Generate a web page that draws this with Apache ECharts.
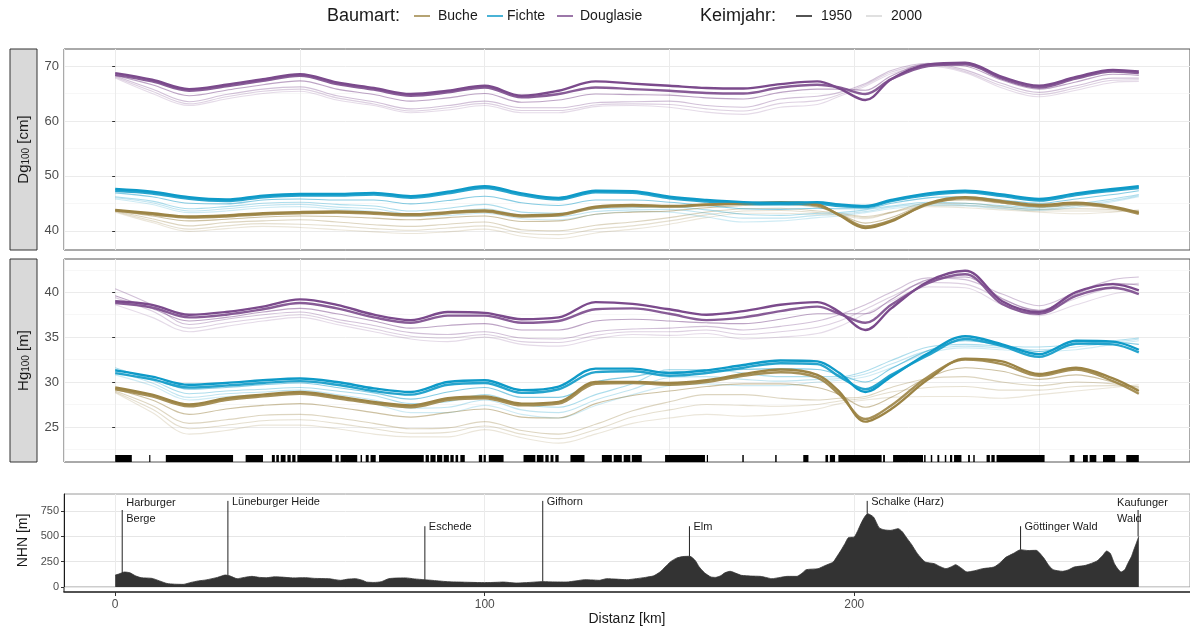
<!DOCTYPE html>
<html lang="de">
<head>
<meta charset="utf-8">
<title>Dg100 / Hg100 entlang der Distanz</title>
<script src="https://cdn.jsdelivr.net/npm/echarts@6/dist/echarts.min.js"></script>
<style>
  html, body { margin: 0; padding: 0; background: #fff; }
  #chart { width: 1190px; height: 630px; }
</style>
</head>
<body>
<div id="chart"></div>
<script>
// Distanz [km] der Stuetzstellen
var km = [0,10,20,30,40,50,60,70,80,90,100,110,120,130,140,150,160,170,180,190,196,203,210,220,230,240,250,260,270,277];

// Dg100 [cm]
var dgBuche1950 = [43.8,43.2,42.6,42.8,43.2,43.4,43.5,43.3,43.0,43.4, 43.7,42.8,43.0,44.4,44.7,44.5,44.8,45.0,45.2,44.8, 42.8,40.5,41.7,45.0,46.1,45.4,44.7,45.1,44.4,43.3];
var dgBuche1960 = [43.7,43.0,42.4,42.6,43.0,43.2,43.3,43.1,42.8,43.2, 43.5,42.6,42.8,44.2,44.5,44.4,44.7,44.9,45.0,44.6, 42.9,40.8,41.9,44.8,45.9,45.2,44.5,44.9,44.2,43.1];
var dgBuche1970 = [43.7,42.7,41.8,42.1,42.5,42.7,42.6,42.3,42.0,42.4, 42.7,41.7,41.8,43.0,43.4,43.6,44.2,44.6,44.8,44.3, 43.0,41.4,42.4,45.0,45.6,45.0,44.3,44.6,44.1,43.4];
var dgBuche1980 = [43.6,42.2,40.9,41.5,41.8,42.0,41.6,41.1,40.8,41.2, 41.6,40.2,40.0,41.0,41.6,42.4,43.4,44.0,44.1,43.6, 43.2,42.6,43.4,45.0,45.0,44.4,43.9,44.0,43.9,43.6];
var dgBuche1990 = [43.5,41.8,40.3,40.9,41.3,41.2,40.9,40.4,40.1,40.5, 40.9,39.6,39.3,40.3,40.9,41.8,42.9,43.6,43.7,43.3, 43.0,42.4,43.3,44.7,44.6,44.1,43.6,43.6,43.6,43.7];
var dgBuche2000 = [43.4,41.5,39.9,40.4,40.8,40.6,40.2,39.8,39.5,39.8, 40.3,39.0,38.6,39.6,40.3,41.2,42.4,43.2,43.2,43.0, 42.8,42.2,43.3,44.4,44.2,43.8,43.4,43.1,43.4,43.8];
var dgFichte1950 = [47.6,47.1,46.1,45.7,46.4,46.7,46.7,46.9,46.3,47.1, 48.1,46.8,46.0,47.3,47.2,46.2,45.6,45.2,45.1,45.2, 44.8,44.5,45.6,46.8,47.3,46.6,45.8,46.8,47.6,48.1];
var dgFichte1960 = [47.3,46.8,45.8,45.4,46.1,46.4,46.4,46.6,46.0,46.8, 47.8,46.5,45.7,47.0,46.9,45.9,45.3,44.9,44.8,44.9, 44.5,44.3,45.4,46.5,47.0,46.3,45.5,46.5,47.3,47.8];
var dgFichte1970 = [46.9,46.2,45.0,44.9,45.6,45.8,45.6,45.6,44.9,45.5, 46.3,45.1,44.6,45.6,45.6,45.2,44.6,44.0,43.9,44.1, 44.0,44.0,45.0,46.0,46.2,45.6,45.0,45.8,46.6,47.3];
var dgFichte1980 = [46.2,45.4,44.0,44.4,45.0,45.2,44.8,44.5,43.6,44.1, 44.8,43.4,43.2,44.0,44.2,44.4,43.8,43.0,42.8,43.2, 43.3,43.8,44.5,45.2,45.0,44.6,44.2,44.9,45.8,46.6];
var dgFichte1990 = [46.0,45.1,43.6,44.0,44.6,44.8,44.3,44.0,43.1,43.4, 44.0,42.8,42.6,43.5,43.8,43.9,43.2,42.3,42.3,42.8, 43.0,43.5,44.3,44.9,44.7,44.3,43.9,44.6,45.5,46.4];
var dgFichte2000 = [45.8,44.8,43.3,43.6,44.2,44.4,43.9,43.5,42.6,42.8, 43.2,42.2,42.0,43.0,43.5,43.4,42.5,41.6,41.8,42.4, 42.7,43.3,44.0,44.6,44.5,44.0,43.7,44.3,45.3,46.2];
var dgDouglasie1950 = [68.7,67.5,65.8,66.6,67.6,68.5,67.0,66.0,64.9,65.5, 66.4,64.6,65.5,67.2,66.8,66.4,66.0,65.9,66.7,67.2, 65.9,63.8,67.6,70.3,70.6,68.0,66.4,68.0,69.3,69.0];
var dgDouglasie1960 = [68.4,67.2,65.5,66.3,67.3,68.2,66.7,65.7,64.6,65.2, 66.1,64.3,64.9,66.1,65.8,65.5,65.1,65.0,66.1,66.6, 66.1,64.9,67.6,70.0,70.3,67.7,66.1,67.7,69.0,68.7];
var dgDouglasie1970 = [68.3,66.6,64.6,65.6,66.6,67.3,65.8,64.8,63.6,64.2, 65.0,63.4,63.8,64.9,64.8,64.7,64.2,64.0,65.2,65.8, 65.8,65.6,68.2,70.4,70.0,67.4,65.8,67.1,68.5,68.3];
var dgDouglasie1980 = [68.2,65.8,63.5,64.8,65.8,66.2,64.6,63.5,62.2,62.8, 63.6,62.4,62.4,63.3,63.5,63.6,62.8,62.5,64.0,64.5, 65.2,66.8,69.2,70.5,69.3,66.8,65.2,66.4,67.8,67.8];
var dgDouglasie1990 = [68.0,65.4,63.1,64.4,65.4,65.8,64.2,63.1,61.8,62.4, 63.2,61.9,61.9,62.9,63.1,63.0,62.2,61.8,63.2,63.7, 64.8,66.6,68.9,70.3,69.0,66.4,64.8,66.0,67.4,67.5];
var dgDouglasie2000 = [67.8,65.0,62.8,64.0,65.0,65.4,63.8,62.8,61.5,62.0, 62.8,61.5,61.5,62.6,62.8,62.5,61.6,61.2,62.5,63.0, 64.5,66.3,68.6,70.0,68.8,66.0,64.4,65.6,67.0,67.2];

// Hg100 [m]
var hgBuche1950 = [29.4,28.6,27.5,28.2,28.6,28.9,28.4,27.8,27.4,28.2, 28.4,27.6,27.8,30.0,30.0,29.9,30.2,30.9,31.4,30.8, 28.9,25.6,27.0,30.3,32.6,32.3,30.9,31.6,30.4,29.0];
var hgBuche1960 = [29.2,28.4,27.3,28.0,28.4,28.7,28.2,27.6,27.2,28.0, 28.2,27.4,27.6,29.8,29.9,29.7,30.0,30.7,31.1,30.5, 28.6,25.9,27.4,30.6,32.5,32.0,30.7,31.4,30.1,28.7];
var hgBuche1970 = [29.2,28.0,26.4,27.0,27.4,27.6,27.2,26.6,26.1,26.6, 27.0,26.1,26.0,27.6,28.5,29.0,29.5,29.8,29.8,29.4, 28.6,27.2,28.3,30.5,31.6,31.2,30.3,30.8,30.0,29.2];
var hgBuche1980 = [29.0,27.4,25.4,25.8,26.3,26.4,26.0,25.4,24.8,24.9, 25.6,24.6,24.2,25.3,26.8,27.8,28.6,28.6,28.2,28.0, 28.2,28.4,29.4,30.4,30.6,30.0,29.6,30.0,29.8,29.4];
var hgBuche1990 = [28.9,27.0,24.8,25.2,25.7,25.8,25.4,24.8,24.3,24.4, 25.1,24.2,23.7,24.7,26.1,26.9,27.5,27.4,27.3,27.5, 27.9,28.2,28.9,29.4,29.5,29.1,29.1,29.5,29.6,29.5];
var hgBuche2000 = [28.8,26.6,24.2,24.6,25.2,25.2,24.8,24.2,23.9,23.9, 24.7,23.8,23.2,24.2,25.4,26.0,26.4,26.2,26.4,27.0, 27.6,28.0,28.3,28.4,28.4,28.2,28.6,29.0,29.4,29.7];
var hgFichte1950 = [31.3,30.6,29.7,29.9,30.2,30.4,30.0,29.3,28.9,30.0, 30.2,29.1,29.5,31.5,31.5,31.0,31.3,31.9,32.4,32.3, 31.0,28.9,30.6,33.2,35.1,34.2,33.1,34.6,34.5,33.6];
var hgFichte1960 = [31.0,30.3,29.4,29.6,29.9,30.1,29.7,29.0,28.6,29.7, 29.9,28.8,29.2,31.1,31.2,30.7,31.0,31.6,32.1,32.0, 30.6,29.2,30.8,33.0,34.8,34.0,32.8,34.3,34.2,33.3];
var hgFichte1970 = [31.4,30.4,29.2,29.4,29.7,29.9,29.4,28.8,28.1,28.9, 29.4,28.3,28.3,30.0,30.6,31.2,31.2,31.4,31.5,31.4, 30.8,30.0,31.5,33.5,34.6,34.1,33.4,34.2,34.4,34.2];
var hgFichte1980 = [31.6,30.2,28.7,29.0,29.2,29.4,29.0,28.5,27.6,27.8, 28.6,27.5,27.2,28.6,29.8,31.4,31.4,31.0,30.6,30.6, 30.6,31.2,32.4,33.9,34.2,34.0,33.9,34.2,34.6,34.9];
var hgFichte1990 = [31.2,29.9,28.3,28.7,28.9,29.1,28.6,28.0,27.1,27.2, 28.0,26.9,26.6,28.0,29.2,30.5,30.6,30.3,30.1,30.3, 30.4,30.9,32.0,33.5,34.0,33.8,33.6,33.9,34.4,34.8];
var hgFichte2000 = [30.8,29.6,28.0,28.4,28.6,28.8,28.2,27.6,26.6,26.6, 27.4,26.4,26.0,27.4,28.6,29.6,29.8,29.6,29.6,30.0, 30.2,30.6,31.6,33.2,33.8,33.6,33.4,33.6,34.2,34.6];
var hgDouglasie1950 = [39.0,38.6,37.5,37.8,38.4,39.2,38.6,37.5,36.9,37.8, 37.7,37.0,37.2,38.9,38.7,38.1,37.5,37.9,38.6,38.9, 37.8,35.8,38.2,41.2,42.4,39.0,37.8,40.0,40.9,40.2];
var hgDouglasie1960 = [38.8,38.3,37.2,37.5,38.1,38.8,38.2,37.2,36.6,37.4, 37.4,36.6,36.8,38.1,38.2,37.6,36.9,37.2,37.9,38.4, 37.6,36.6,38.6,41.0,42.0,38.7,37.6,39.6,40.5,39.8];
var hgDouglasie1970 = [39.6,38.2,36.8,37.2,37.8,38.2,37.6,36.8,36.0,36.3, 36.5,35.8,35.8,36.8,37.0,36.8,36.6,36.5,37.0,37.6, 37.6,37.6,39.2,41.4,41.7,39.3,38.0,39.8,41.0,40.8];
var hgDouglasie1980 = [40.4,38.6,36.4,37.0,37.5,37.8,37.0,36.3,35.5,35.3, 35.6,34.9,34.8,35.6,35.9,36.0,36.2,35.8,36.2,36.8, 37.5,38.6,40.0,41.6,41.4,39.8,38.5,40.0,41.4,41.7];
var hgDouglasie1990 = [39.4,37.9,36.0,36.6,37.1,37.5,36.7,35.9,35.1,34.9, 35.3,34.5,34.4,35.2,35.6,35.6,35.8,35.3,35.6,36.1, 36.8,38.1,39.5,41.1,40.9,39.2,37.9,39.3,40.6,41.0];
var hgDouglasie2000 = [38.6,37.2,35.6,36.2,36.8,37.2,36.4,35.6,34.8,34.5, 35.0,34.2,34.0,34.8,35.3,35.2,35.4,34.8,35.0,35.4, 36.2,37.6,39.0,40.6,40.5,38.6,37.4,38.6,39.8,40.2];

// Rug: Abschnitte mit Beobachtungen [km]
var rugStart = [0,9.2,13.7,35.3,42.4,43.6,44.8,46.6,47.9,49.3,59.6,61.0,66.4,67.8,69.1,71.4,84.0,85.3,87.1,88.9,90.7,92.1,93.4,98.4,99.7,101.1,110.5,114.1,116.4,117.8,119.1,123.2,131.7,134.9,137.6,139.8,148.8,160.1,169.7,178.6,186.2,192.2,193.4,195.7,207.8,210.5,218.9,220.7,222.5,224.5,225.9,227.0,230.8,232.2,235.8,237.1,238.5,258.3,261.9,263.7,267.3,273.6];
var rugEnd   = [4.5,9.5,31.9,40.0,43.2,44.3,46.1,47.5,48.8,58.7,60.5,65.5,66.8,68.6,70.5,83.5,84.9,86.7,88.5,90.3,91.6,92.8,94.6,99.3,100.3,105.1,113.7,115.9,117.3,118.6,120.0,127.0,134.4,137.1,139.4,142.5,159.6,160.3,170.1,179.0,187.6,192.9,194.8,207.4,208.3,218.6,219.3,221.1,223.0,224.9,226.5,229.0,231.3,232.6,236.7,238.0,251.5,259.6,263.2,265.5,270.6,277.0];

// Hoehenprofil NHN [m]
var elevKm = [0,1,2.5,4,5.5,7,10,12,14,16,18.4,20.5,22.5,24.6,27.7,29.8,31,33,35,37,39,41,43,45,48,51.5,54,57.8,61,63,65,67,68,70,72,74,76,78.5,81,83.6,86,87.8,90,93,96,100,103,105,108.5,112,115.7,119,122,125,127,129,131,133,135.5,138.4,141,143.5,145.7,147.5,148.8,150.3,151.9,153.5,155.5,157,158,159.5,161.2,162.5,163.8,165,166.4,168,169.5,172,174.6,176,177.7,180,181.9,184.5,186,187,190.2,192,194.3,195.3,196.4,197.5,198.4,200,201,201.6,202.6,203.6,205.2,206.7,208,209.8,211.9,213,214,215.5,217.1,219.2,221.7,223,224.8,226.3,227.4,229,230.5,232.5,234.7,237.8,239.5,240.9,243,245,247,249.2,251.2,252.5,253.8,256.4,258,259.5,262.6,265.7,267.2,268.3,269.3,270.4,271.3,272.2,273.2,274,275,275.6,276.3,277];
var elevM  = [118,128,148,140,110,92,85,60,35,28,26,45,60,70,95,118,110,82,95,105,95,92,100,98,90,92,85,82,66,78,82,65,49,45,52,82,88,90,80,72,65,59,52,49,46,43,46,49,39,45,53,50,49,62,72,70,66,82,78,72,82,95,110,150,197,250,285,300,303,260,200,140,99,95,110,140,155,135,115,108,105,95,82,95,105,105,140,171,181,210,247,300,362,430,487,494,560,609,680,724,691,586,565,559,576,545,494,420,329,247,230,205,181,200,220,185,148,160,181,197,240,290,330,368,360,362,290,220,171,155,170,197,214,257,310,355,330,230,180,148,170,230,300,362,430,500];

// Orte entlang des Profils
var placeName   = ['Harburger\nBerge','Lüneburger Heide','Eschede','Gifhorn','Elm','Schalke (Harz)','Göttinger Wald','Kaufunger\nWald'];
var placeKm     = [1.9, 30.5, 83.8, 115.7, 155.4, 203.5, 245.0, 276.8];
var placeGround = [140, 115, 72, 53, 303, 724, 368, 500];
var placeTop    = [760, 850, 600, 850, 600, 850, 600, 760];

var baumarten = ['Buche', 'Fichte', 'Douglasie'];
var keimjahre = [1950, 1960, 1970, 1980, 1990, 2000];

var farbe = { Buche: '#9C8445', Fichte: '#0E9AC8', Douglasie: '#7B4A8C' };
var jahrStil = { 1950: { op: 1, w: 2.4, z: 5 }, 1960: { op: 0.9, w: 2.4, z: 4 },
                 1970: { op: 0.5, w: 1.1, z: 3 }, 1980: { op: 0.34, w: 1.1, z: 2 },
                 1990: { op: 0.26, w: 1.1, z: 2 }, 2000: { op: 0.2, w: 1.1, z: 2 } };

var werte = {
    dgBuche: [dgBuche1950, dgBuche1960, dgBuche1970, dgBuche1980, dgBuche1990, dgBuche2000],
    dgFichte: [dgFichte1950, dgFichte1960, dgFichte1970, dgFichte1980, dgFichte1990, dgFichte2000],
    dgDouglasie: [dgDouglasie1950, dgDouglasie1960, dgDouglasie1970, dgDouglasie1980, dgDouglasie1990, dgDouglasie2000],
    hgBuche: [hgBuche1950, hgBuche1960, hgBuche1970, hgBuche1980, hgBuche1990, hgBuche2000],
    hgFichte: [hgFichte1950, hgFichte1960, hgFichte1970, hgFichte1980, hgFichte1990, hgFichte2000],
    hgDouglasie: [hgDouglasie1950, hgDouglasie1960, hgDouglasie1970, hgDouglasie1980, hgDouglasie1990, hgDouglasie2000]
};

var FONT = 'Liberation Sans, Arial, sans-serif';
var chart = echarts.init(document.getElementById('chart'), null, { renderer: 'canvas' });

var series = [];
['dg', 'hg'].forEach(function (panel, p) {
    baumarten.forEach(function (art) {
        keimjahre.forEach(function (jahr, j) {
            var st = jahrStil[jahr];
            var vals = werte[panel + art][j];
            series.push({
                type: 'line', name: art + ' ' + jahr,
                xAxisIndex: p, yAxisIndex: p,
                data: km.map(function (x, i) { return [x, vals[i]]; }),
                showSymbol: false, smooth: 0.35, silent: true, z: st.z,
                lineStyle: { color: farbe[art], width: st.w, opacity: st.op }
            });
        });
    });
});

// rug im Hg-Panel
series.push({
    type: 'custom', xAxisIndex: 1, yAxisIndex: 1, silent: true, z: 6,
    data: rugStart.map(function (s, i) { return [s, rugEnd[i]]; }),
    encode: { x: [0, 1] },
    renderItem: function (params, api) {
        var cs = params.coordSys;
        var a = api.coord([api.value(0), 30]);
        var b = api.coord([api.value(1), 30]);
        var bottom = cs.y + cs.height;
        return { type: 'rect', shape: { x: a[0], y: bottom - 7, width: Math.max(b[0] - a[0], 1.2), height: 7 },
                 style: { fill: '#000' } };
    }
});

// Hoehenprofil
series.push({
    type: 'line', xAxisIndex: 2, yAxisIndex: 2, silent: true,
    data: elevKm.map(function (x, i) { return [x, elevM[i]]; }),
    showSymbol: false, smooth: 0.2,
    lineStyle: { color: '#333', width: 0.8 },
    areaStyle: { color: '#333', opacity: 1 }
});

// Ortsbeschriftungen
series.push({
    type: 'custom', xAxisIndex: 2, yAxisIndex: 2, silent: true, z: 6,
    data: placeKm.map(function (x, i) { return [x, placeGround[i], placeTop[i], i]; }),
    encode: { x: 0, y: [1, 2] },
    renderItem: function (params, api) {
        var i = api.value(3);
        var g = api.coord([api.value(0), api.value(1)]);
        var t = api.coord([api.value(0), api.value(2)]);
        var cs = params.coordSys;
        var tx = t[0] + 4;
        if (t[0] > cs.x + cs.width - 80) { tx = t[0] - 21; }
        return { type: 'group', children: [
            { type: 'line', shape: { x1: g[0], y1: g[1], x2: t[0], y2: t[1] }, style: { stroke: '#222', lineWidth: 1 } },
            { type: 'text', x: tx, y: t[1] + 1, style: { text: placeName[i], fill: '#1a1a1a', font: '11px ' + FONT,
                lineHeight: 16, align: 'left', verticalAlign: 'middle' } }
        ] };
    }
});

var xBase = {
    type: 'value', min: -13.85, max: 290.85, splitNumber: 5,
    axisLine: { show: false }, axisTick: { show: false }, axisLabel: { show: false },
    splitLine: { show: true, lineStyle: { color: '#EBEBEB', width: 1 } }
};
function yFacet(idx, min, max, vals) {
    return {
        type: 'value', gridIndex: idx, min: min, max: max, splitNumber: 5,
        axisLine: { show: false },
        axisTick: { show: true, length: 3, lineStyle: { color: '#333' }, customValues: vals },
        axisLabel: { color: '#4d4d4d', fontSize: 13, fontFamily: FONT, margin: 5, customValues: vals },
        splitLine: { lineStyle: { color: '#EBEBEB', width: 1 } },
        minorTick: { show: false, splitNumber: 2 },
        minorSplitLine: { show: true, lineStyle: { color: '#F3F3F3', width: 0.7 } }
    };
}

function stripe(top, h, rich) {
    return [
        { type: 'rect', shape: { x: 10, y: top, width: 27, height: h }, style: { fill: '#D9D9D9', stroke: '#333', lineWidth: 1 } },
        { type: 'text', x: 23.5, y: top + h / 2, rotation: Math.PI / 2,
          style: { text: rich, align: 'center', verticalAlign: 'middle', fill: '#1a1a1a',
                   rich: { n: { fontSize: 15, fontFamily: FONT, fill: '#1a1a1a' },
                           s: { fontSize: 10, fontFamily: FONT, fill: '#1a1a1a', verticalAlign: 'bottom', lineHeight: 14 } } } }
    ];
}

function legKey(x, col, w) {
    return { type: 'line', shape: { x1: x, y1: 16, x2: x + 16, y2: 16 }, style: { stroke: col, lineWidth: w } };
}
function legText(x, txt, size) {
    return { type: 'text', x: x, y: 16, style: { text: txt, font: size + 'px ' + FONT, fill: '#1a1a1a', verticalAlign: 'middle' } };
}

var graphics = []
    .concat(stripe(49, 201, '{n|Dg}{s|100}{n| [cm]}'))
    .concat(stripe(259, 203, '{n|Hg}{s|100}{n| [m]}'))
    .concat([
        legText(327, 'Baumart:', 18),
        legKey(414, farbe.Buche, 1.5), legText(438, 'Buche', 14),
        legKey(487, farbe.Fichte, 1.5), legText(507, 'Fichte', 14),
        legKey(557, farbe.Douglasie, 1.5), legText(580, 'Douglasie', 14),
        legText(700, 'Keimjahr:', 18),
        legKey(796, '#1a1a1a', 1.5), legText(821, '1950', 14),
        legKey(866, '#d6d6d6', 1.5), legText(891, '2000', 14),
        // y-Achse des Hoehenpanels bis zur versetzten x-Achse verlaengern
        { type: 'line', shape: { x1: 64, y1: 587, x2: 64, y2: 592 }, style: { stroke: '#1a1a1a', lineWidth: 1 } }
    ]);

chart.setOption({
    animation: false,
    backgroundColor: '#fff',
    grid: [
        { left: 64, top: 49, width: 1128, height: 201, show: true, borderColor: '#555', borderWidth: 1 },
        { left: 64, top: 259, width: 1128, height: 203, show: true, borderColor: '#555', borderWidth: 1 },
        { left: 64, top: 494, width: 1128, height: 93, show: true, borderColor: '#9a9a9a', borderWidth: 1 }
    ],
    xAxis: [
        Object.assign({}, xBase, { gridIndex: 0 }),
        Object.assign({}, xBase, { gridIndex: 1 }),
        Object.assign({}, xBase, {
            gridIndex: 2,
            axisLine: { show: true, onZero: false, lineStyle: { color: '#1a1a1a', width: 1.6 } },
            offset: 5,
            axisTick: { show: true, length: 4, lineStyle: { color: '#333' }, customValues: [0, 100, 200] },
            axisLabel: { show: true, color: '#4d4d4d', fontSize: 12, fontFamily: FONT, margin: 7, customValues: [0, 100, 200] },
            name: 'Distanz [km]', nameLocation: 'middle', nameGap: 20,
            nameTextStyle: { color: '#1a1a1a', fontSize: 14, fontFamily: FONT }
        })
    ],
    yAxis: [
        yFacet(0, 36.5, 73.1, [40, 50, 60, 70]),
        yFacet(1, 21.1, 43.7, [25, 30, 35, 40]),
        {
            type: 'value', gridIndex: 2, min: 0, max: 918, interval: 250,
            axisLine: { show: true, onZero: false, lineStyle: { color: '#1a1a1a', width: 1 } },
            axisTick: { show: true, length: 3, lineStyle: { color: '#333' }, customValues: [0, 250, 500, 750] },
            axisLabel: { color: '#4d4d4d', fontSize: 11, fontFamily: FONT, margin: 5, customValues: [0, 250, 500, 750] },
            splitLine: { lineStyle: { color: '#E6E6E6', width: 1 } },
            name: 'NHN [m]', nameLocation: 'middle', nameGap: 30, nameRotate: 90,
            nameTextStyle: { color: '#1a1a1a', fontSize: 14, fontFamily: FONT }
        }
    ],
    graphic: graphics,
    series: series
});
</script>
</body>
</html>
